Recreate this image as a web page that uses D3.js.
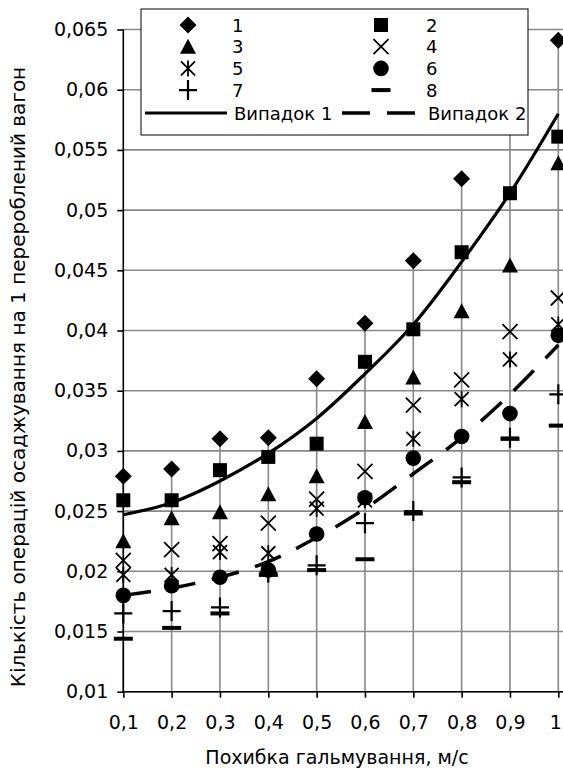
<!DOCTYPE html>
<html>
<head>
<meta charset="utf-8">
<script src="https://cdnjs.cloudflare.com/ajax/libs/d3/7.8.5/d3.min.js"></script>
<style>
  body { margin: 0; background: #fff; }
  text { font-family: "DejaVu Sans", sans-serif; fill: #000; }
</style>
</head>
<body>
<svg id="chart" width="563" height="769"></svg>
<script>
// categories (braking error, m/s) and their labels
let categories = [0.1, 0.2, 0.3, 0.4, 0.5, 0.6, 0.7, 0.8, 0.9, 1.0];
let xLabels = ["0,1", "0,2", "0,3", "0,4", "0,5", "0,6", "0,7", "0,8", "0,9", "1"];
let yTicks = [0.01, 0.015, 0.02, 0.025, 0.03, 0.035, 0.04, 0.045, 0.05, 0.055, 0.06, 0.065];
let yTickLabels = ["0,01", "0,015", "0,02", "0,025", "0,03", "0,035", "0,04", "0,045", "0,05", "0,055", "0,06", "0,065"];

// point series 1..8
let s1 = [0.0279, 0.0285, 0.0310, 0.0311, 0.0360, 0.0406, 0.0458, 0.0526, 0.0598, 0.0641];
let s2 = [0.0259, 0.0259, 0.0284, 0.0295, 0.0306, 0.0374, 0.0401, 0.0465, 0.0514, 0.0561];
let s3 = [0.0225, 0.0244, 0.0249, 0.0264, 0.0279, 0.0324, 0.0361, 0.0416, 0.0454, 0.0539];
let s4 = [0.0209, 0.0218, 0.0223, 0.0240, 0.0260, 0.0283, 0.0338, 0.0359, 0.0399, 0.0427];
let s5 = [0.0197, 0.0197, 0.0216, 0.0215, 0.0252, 0.0259, 0.0310, 0.0343, 0.0376, 0.0405];
let s6 = [0.0180, 0.0188, 0.0195, 0.0201, 0.0231, 0.0261, 0.0294, 0.0312, 0.0331, 0.0396];
let s7 = [0.0165, 0.0167, 0.0170, 0.0199, 0.0205, 0.0240, 0.0250, 0.0278, 0.0311, 0.0347];
let s8 = [0.0144, 0.0153, 0.0165, 0.0197, 0.0201, 0.0210, 0.0248, 0.0274, 0.0310, 0.0321];

// smoothed curves
let case1 = [0.0247, 0.0257, 0.0275, 0.0298, 0.0327, 0.0364, 0.0405, 0.0457, 0.0514, 0.0580];
let case2 = [0.0180, 0.0186, 0.0195, 0.0208, 0.0228, 0.0252, 0.0281, 0.0311, 0.0347, 0.0388];

let seriesNames = ["1", "2", "3", "4", "5", "6", "7", "8"];
let curveNames = ["Випадок 1", "Випадок 2"];

let svg = d3.select('#chart');
let plotLeft = 123.3, plotRight = 558.3, plotTop = 29.5, plotBottom = 691.7;
let grey = '#888888';

let x = d3.scalePoint().domain(categories).range([plotLeft, plotRight]);
let y = d3.scaleLinear().domain([0.01, 0.065]).range([plotBottom, plotTop]);

// marker shapes, drawn around 0,0
function marker(g, kind) {
  if (kind === 'diamond') {
    g.append('path').attr('d', 'M0,-8.5L8.5,0L0,8.5L-8.5,0Z').attr('fill', '#000');
  } else if (kind === 'square') {
    g.append('rect').attr('x', -7).attr('y', -7).attr('width', 14).attr('height', 14).attr('fill', '#000');
  } else if (kind === 'triangle') {
    g.append('path').attr('d', 'M0,-8L8,7L-8,7Z').attr('fill', '#000');
  } else if (kind === 'x') {
    g.append('path').attr('d', 'M-7.5,-7.5L7.5,7.5M-7.5,7.5L7.5,-7.5').attr('stroke', '#000').attr('stroke-width', 1.8);
  } else if (kind === 'star') {
    g.append('path').attr('d', 'M-7,-7L7,7M-7,7L7,-7M0,-8L0,8').attr('stroke', '#000').attr('stroke-width', 1.8);
  } else if (kind === 'circle') {
    g.append('circle').attr('r', 7.8).attr('fill', '#000');
  } else if (kind === 'plus') {
    g.append('path').attr('d', 'M-9,0L9,0M0,-10L0,10').attr('stroke', '#000').attr('stroke-width', 2.2);
  } else if (kind === 'minus') {
    g.append('rect').attr('x', -9.5).attr('y', -2).attr('width', 19).attr('height', 4).attr('fill', '#000');
  }
}

let pointSeries = [s1, s2, s3, s4, s5, s6, s7, s8];
let kinds = ['diamond', 'square', 'triangle', 'x', 'star', 'circle', 'plus', 'minus'];

// horizontal gridlines
svg.append('g').selectAll('line').data(yTicks).join('line')
  .attr('x1', plotLeft).attr('x2', 563)
  .attr('y1', d => y(d)).attr('y2', d => y(d))
  .attr('stroke', grey).attr('stroke-width', 1.6);

// drop lines from highest point down to axis
svg.append('g').selectAll('line').data(categories).join('line')
  .attr('x1', d => x(d)).attr('x2', d => x(d))
  .attr('y1', (d, i) => y(d3.max(pointSeries, s => s[i])))
  .attr('y2', plotBottom)
  .attr('stroke', grey).attr('stroke-width', 1.6);

// axes
let yAxis = svg.append('g').attr('transform', `translate(${plotLeft},0)`)
  .call(d3.axisLeft(y).tickValues(yTicks).tickFormat((d, i) => yTickLabels[i]).tickSize(6).tickPadding(9));
let xAxis = svg.append('g').attr('transform', `translate(0,${plotBottom})`)
  .call(d3.axisBottom(x).tickFormat((d, i) => xLabels[i]).tickSize(6).tickPadding(18));
xAxis.select('.domain').attr('d', `M${plotLeft},0H563`);
yAxis.select('.domain').attr('d', `M0,${plotBottom}V${plotTop}`);
svg.selectAll('.domain, .tick line').attr('stroke', '#000').attr('stroke-width', 1.6);
svg.selectAll('.tick text').attr('font-family', '"DejaVu Sans", sans-serif').attr('font-size', 19).attr('fill', '#000');
// keep the last label "1" inside the page
xAxis.selectAll('.tick text').filter((d, i) => i === categories.length - 1).attr('dx', -3);

// markers
pointSeries.forEach((s, k) => {
  let g = svg.append('g');
  s.forEach((v, i) => {
    let m = g.append('g').attr('transform', `translate(${x(categories[i])},${y(v)})`);
    marker(m, kinds[k]);
  });
});

// smoothed lines
let line = d3.line().x((d, i) => x(categories[i])).y(d => y(d)).curve(d3.curveCatmullRom);
svg.append('path').attr('d', line(case1)).attr('fill', 'none').attr('stroke', '#000').attr('stroke-width', 3.2);
svg.append('path').attr('d', line(case2)).attr('fill', 'none').attr('stroke', '#000').attr('stroke-width', 3.5)
  .attr('stroke-dasharray', '28,17');

// legend
let lg = svg.append('g');
svg.append('clipPath').attr('id', 'legclip').append('rect').attr('x', 141).attr('y', 9).attr('width', 387).attr('height', 126);
lg.append('rect').attr('x', 141).attr('y', 9).attr('width', 387).attr('height', 126)
  .attr('fill', '#fff').attr('stroke', '#000').attr('stroke-width', 1);
let li = lg.append('g').attr('clip-path', 'url(#legclip)');
seriesNames.forEach((name, k) => {
  let col = k % 2, row = Math.floor(k / 2);
  let cy = 25 + row * 21.7;
  let mx = col === 0 ? 188 : 381;
  let m = li.append('g').attr('transform', `translate(${mx},${cy})`);
  marker(m, kinds[k]);
  li.append('text').attr('x', col === 0 ? 232 : 426).attr('y', cy + 6.5)
    .attr('font-size', 18).text(name);
});
let ly = 113;
li.append('line').attr('x1', 145).attr('x2', 227).attr('y1', ly).attr('y2', ly)
  .attr('stroke', '#000').attr('stroke-width', 3);
li.append('text').attr('x', 234).attr('y', ly + 6.5).attr('font-size', 18).text(curveNames[0]);
li.append('line').attr('x1', 342).attr('x2', 415).attr('y1', ly).attr('y2', ly)
  .attr('stroke', '#000').attr('stroke-width', 3.5).attr('stroke-dasharray', '28,17');
li.append('text').attr('x', 428).attr('y', ly + 6.5).attr('font-size', 18).text(curveNames[1]);

// axis titles
svg.append('text').attr('x', 337).attr('y', 764).attr('text-anchor', 'middle')
  .attr('font-size', 19).text('Похибка гальмування, м/с');
svg.append('text').attr('transform', 'translate(25,377) rotate(-90)').attr('text-anchor', 'middle')
  .attr('font-size', 20).text('Кількість операцій осаджування на 1 перероблений вагон');
</script>
</body>
</html>
